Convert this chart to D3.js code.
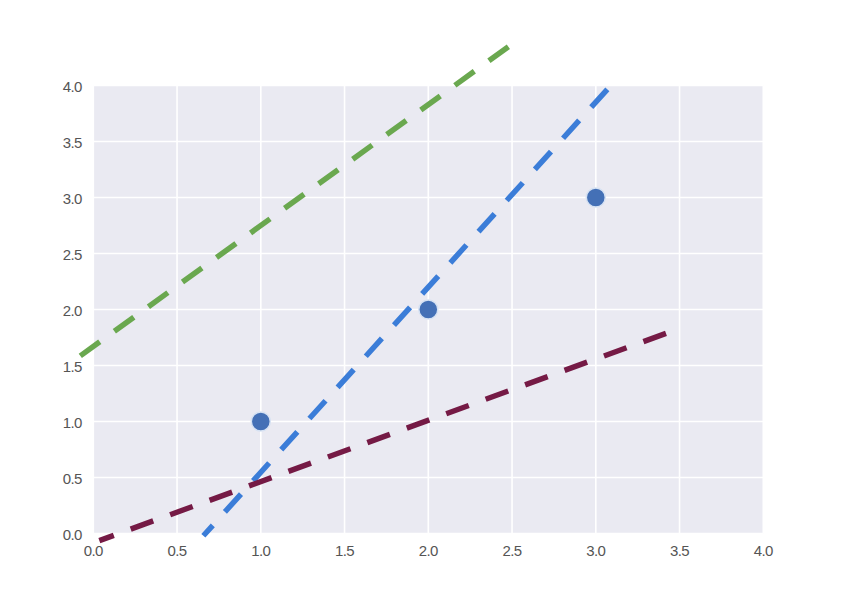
<!DOCTYPE html>
<html><head><meta charset="utf-8">
<script src="https://cdn.jsdelivr.net/npm/d3@7"></script>
<style>body{margin:0;background:#fff}text{font-family:"Liberation Sans",Arial,sans-serif}</style>
</head><body><svg id="c" width="853" height="603"></svg>
<script>
const xTicks = [0.0,0.5,1.0,1.5,2.0,2.5,3.0,3.5,4.0];
const yTicks = [0.0,0.5,1.0,1.5,2.0,2.5,3.0,3.5,4.0];
const pointsX = [1,2,3];
const pointsY = [1,2,3];
// dashed lines, listed from right/top end to left/bottom end
const greenLine = [[2.478,4.346],[-0.084,1.579]];
const blueLine = [[3.069,3.966],[0.657,-0.02]];
const purpleLine = [[3.419,1.7875],[0.036,-0.064]];

const svg = d3.select("#c");
const L=93.3,R=763.3,T=85.5,B=533.5;
const x = d3.scaleLinear().domain([0,4]).range([L,R]);
const y = d3.scaleLinear().domain([0,4]).range([B,T]);

svg.append("rect").attr("x",L).attr("y",T).attr("width",R-L).attr("height",B-T).attr("fill","#eaeaf2");
svg.append("g").selectAll("line").data(xTicks).join("line")
  .attr("x1",d=>x(d)).attr("x2",d=>x(d)).attr("y1",T).attr("y2",B)
  .attr("stroke","#fff").attr("stroke-width",1.6);
svg.append("g").selectAll("line").data(yTicks).join("line")
  .attr("y1",d=>y(d)).attr("y2",d=>y(d)).attr("x1",L).attr("x2",R)
  .attr("stroke","#fff").attr("stroke-width",1.6);

svg.append("g").selectAll("text").data(xTicks).join("text")
  .attr("x",d=>x(d)).attr("y",B+22.5).attr("text-anchor","middle")
  .attr("font-size",15).attr("fill","#555").attr("letter-spacing","-0.6")
  .text(d=>d.toFixed(1));
svg.append("g").selectAll("text").data(yTicks).join("text")
  .attr("x",L-11.5).attr("y",d=>y(d)+6).attr("text-anchor","end")
  .attr("font-size",15).attr("fill","#555").attr("letter-spacing","-0.6")
  .text(d=>d.toFixed(1));

svg.append("g").selectAll("circle").data(pointsX).join("circle")
  .attr("cx",d=>x(d)).attr("cy",(d,i)=>y(pointsY[i])).attr("r",9.5)
  .attr("fill","#4470b6").attr("stroke","#d6e2f3").attr("stroke-width",1.5);

const line = d3.line().x(d=>x(d[0])).y(d=>y(d[1]));
[[greenLine,"#6aa84f"],[blueLine,"#3b7dd8"],[purpleLine,"#751a45"]].forEach(([d,c])=>{
  svg.append("path").attr("d",line(d)).attr("fill","none").attr("stroke",c)
    .attr("stroke-width",5.5).attr("stroke-dasharray","24,18");
});
</script></body></html>
